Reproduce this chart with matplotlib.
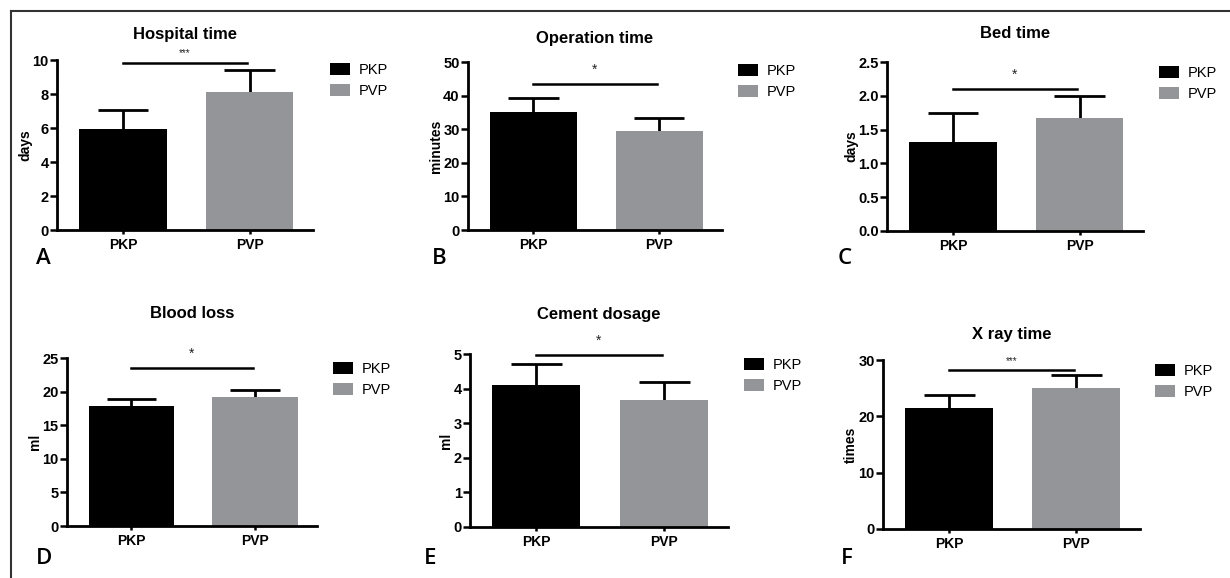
import matplotlib
matplotlib.use("Agg")
import matplotlib.pyplot as plt
from matplotlib.patches import Patch
from matplotlib.lines import Line2D

plt.rcParams['font.family'] = ['Liberation Sans', 'DejaVu Sans']

groups = ["PKP", "PVP"]
titles = ["Hospital time", "Operation time", "Bed time", "Blood loss", "Cement dosage", "X ray time"]
ylabels = ["days", "minutes", "days", "ml", "ml", "times"]
letters = ["A", "B", "C", "D", "E", "F"]

means = [[5.97, 8.14], [35.0, 29.5], [1.31, 1.665], [17.9, 19.2], [4.10, 3.67], [21.4, 25.1]]
sd_top = [[7.06, 9.42], [39.4, 33.2], [1.74, 1.99], [18.95, 20.3], [4.72, 4.18], [23.7, 27.3]]
ymax = [10, 50, 2.5, 25, 5, 30]
yticks = [[0, 2, 4, 6, 8, 10], [0, 10, 20, 30, 40, 50], [0.0, 0.5, 1.0, 1.5, 2.0, 2.5],
          [0, 5, 10, 15, 20, 25], [0, 1, 2, 3, 4, 5], [0, 10, 20, 30]]
sig_y = [9.84, 43.4, 2.10, 23.5, 4.97, 28.2]
sig_txt = ["***", "*", "*", "*", "*", "***"]

colors = ["#000000", "#939598"]

W, H = 1230, 578
# axes boxes in pixels: left, top, right, bottom
boxes = [(57, 60, 313, 230), (468, 62, 722, 230), (887, 62, 1143, 231),
         (67, 358, 317, 526), (470, 354, 728, 527), (883, 360, 1140, 529)]
title_y = [35, 39, 34, 314, 315, 335]
legend_pos = [(330, 63), (738, 64), (1159, 66), (333, 362), (744, 358), (1155, 364)]
letter_pos = [(36, 259), (432, 259), (838, 259), (36, 558), (424, 558), (841, 558)]

fig = plt.figure(figsize=(W / 100, H / 100), dpi=100)

for i in range(6):
    l, t, r, b = boxes[i]
    ax = fig.add_axes([l / W, 1 - b / H, (r - l) / W, (b - t) / H])
    x = [0, 1]
    ax.bar(x, means[i], width=0.69, color=colors, zorder=2)
    # upper error bars only, with cap
    ax.vlines(x, means[i], sd_top[i], color="black", lw=2, zorder=1)
    for j in range(2):
        ax.hlines(sd_top[i][j], x[j] - 0.2, x[j] + 0.2, color="black", lw=2, zorder=1)
    ax.plot([0, 0.98], [sig_y[i], sig_y[i]], color="black", lw=1.8, clip_on=False)
    fs = 7 if sig_txt[i] == "***" else 10
    ax.annotate(sig_txt[i], (0.49, sig_y[i]), xytext=(0, 3 if fs == 7 else 5),
                textcoords="offset points", ha="center", va="bottom", fontsize=fs,
                color="#222222", annotation_clip=False)
    ax.set_xlim(-0.52, 1.5)
    ax.set_ylim(0, ymax[i])
    ax.set_yticks(yticks[i])
    ax.set_xticks(x)
    ax.set_xticklabels(groups, fontweight="bold", fontsize=10)
    for lab in ax.get_yticklabels():
        lab.set_fontweight("bold")
        lab.set_fontsize(10.5)
    ax.tick_params(axis="y", length=5, width=1.8, pad=1)
    ax.tick_params(axis="x", length=3, width=1.8, pad=3)
    ax.spines["top"].set_visible(False)
    ax.spines["right"].set_visible(False)
    ax.spines["left"].set_linewidth(2)
    ax.spines["bottom"].set_linewidth(2)
    ax.set_ylabel(ylabels[i], fontweight="bold", fontsize=10, labelpad=0)
    fig.text((l + r) / 2 / W, 1 - title_y[i] / H, titles[i], fontweight="bold",
             fontsize=12, ha="center", va="center")

    handles = [Patch(facecolor=colors[0], label=groups[0]),
               Patch(facecolor=colors[1], label=groups[1])]
    lx, ly = legend_pos[i]
    fig.legend(handles=handles, loc="upper left", bbox_to_anchor=(lx / W, 1 - ly / H),
               frameon=False, fontsize=10.5, handlelength=1.4, handleheight=0.9,
               handletextpad=0.6, labelspacing=0.5, borderaxespad=0, borderpad=0)

    px, py = letter_pos[i]
    fig.text(px / W, 1 - py / H, letters[i], fontsize=16, fontweight="semibold",
             ha="left", va="center", family=["Open Sans", "DejaVu Sans"])

# frame lines at top and left
fig.add_artist(Line2D([11 / W, 1], [1 - 11 / H, 1 - 11 / H], color="#333333", lw=1.5))
fig.add_artist(Line2D([11 / W, 11 / W], [0, 1 - 11 / H], color="#333333", lw=1.5))

fig.savefig("out.png", dpi=100)
